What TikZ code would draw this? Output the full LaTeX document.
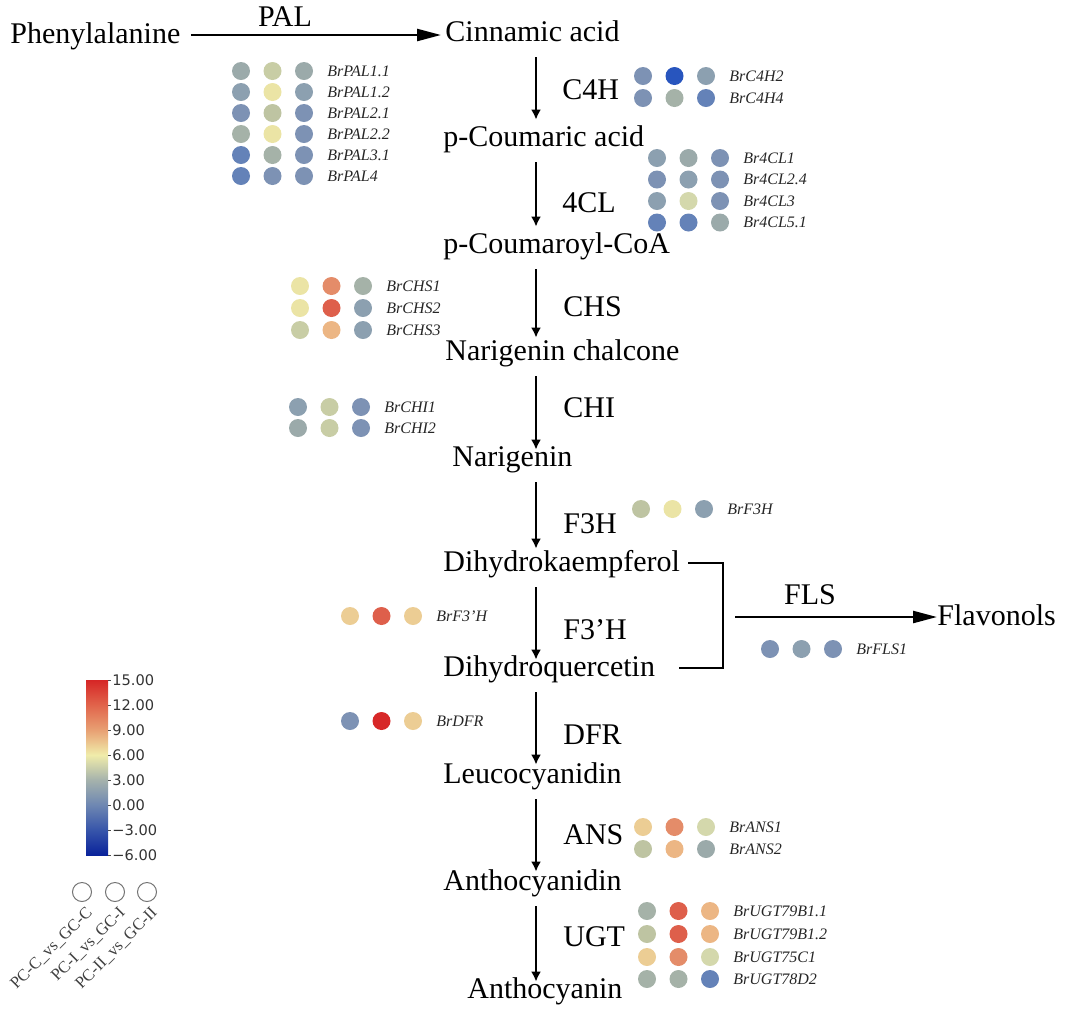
\documentclass[tikz,border=0pt]{standalone}
\usepackage{fontspec}
\setmainfont{Liberation Serif}
\newfontfamily\barfont{DejaVu Sans}
\usetikzlibrary{arrows.meta}

\definecolor{cGray}{RGB}{155,170,170}
\definecolor{cSage}{RGB}{200,205,165}
\definecolor{cYel}{RGB}{235,228,165}
\definecolor{cGBl}{RGB}{140,160,176}
\definecolor{cBGr}{RGB}{125,146,180}
\definecolor{cBlu}{RGB}{100,130,184}
\definecolor{cDeep}{RGB}{40,85,190}
\definecolor{cSgy}{RGB}{165,178,168}
\definecolor{cKha}{RGB}{190,196,162}
\definecolor{cTan}{RGB}{236,205,148}
\definecolor{cLor}{RGB}{236,182,132}
\definecolor{cOra}{RGB}{228,140,105}
\definecolor{cRed}{RGB}{222,95,75}
\definecolor{cCrim}{RGB}{215,40,40}
\definecolor{cPale}{RGB}{212,216,172}

\begin{document}
\begin{tikzpicture}[x=0.5pt, y=-0.5pt,
	compound/.style={anchor=west, inner sep=0pt, text height=11pt, text depth=3pt, font=\fontsize{15}{18}\selectfont},
	enzyme/.style={anchor=west, inner sep=0pt, font=\fontsize{15}{18}\selectfont},
	gdot/.style={circle, inner sep=0pt, minimum size=9pt},
	gene/.style={anchor=west, inner sep=0pt, font=\fontsize{8}{9}\selectfont\itshape, text=black!85},
	mainarrow/.style={line width=1.2pt, -{Latex[length=5pt, width=5pt]}},
	sidearrow/.style={line width=1.2pt, -{Triangle[length=12pt, width=6pt]}},
	legcircle/.style={circle, draw=black!55, line width=0.5pt, inner sep=0pt, minimum size=9.5pt},
	legtext/.style={anchor=east, rotate=45, inner sep=0pt, text=black!75, font=\fontsize{8.3}{9}\selectfont},
	barlabel/.style={anchor=west, inner sep=0pt, font=\barfont\fontsize{7.3}{8}\selectfont, text=black!80}
]
	\useasboundingbox (0,0) rectangle (1065,1024);

	% compounds
	\node[compound] (phe) at (10,35) {Phenylalanine};
	\node[compound] (cin) at (445,33) {Cinnamic acid};
	\node[compound] (pcou) at (443,138) {p-Coumaric acid};
	\node[compound] (pcoa) at (443,245) {p-Coumaroyl-CoA};
	\node[compound] (nchal) at (445,352) {Narigenin chalcone};
	\node[compound] (nar) at (452,458) {Narigenin};
	\node[compound] (dhk) at (443,563) {Dihydrokaempferol};
	\node[compound] (dhq) at (443,668) {Dihydroquercetin};
	\node[compound] (leu) at (443,775) {Leucocyanidin};
	\node[compound] (antd) at (443,882) {Anthocyanidin};
	\node[compound] (antn) at (467,990) {Anthocyanin};
	\node[compound] (flav) at (937,617) {Flavonols};

	% enzymes
	\node[enzyme, anchor=center] (pal) at (285,17) {PAL};
	\node[enzyme] (c4h) at (562,90) {C4H};
	\node[enzyme] (fcl) at (562,203) {4CL};
	\node[enzyme] (chs) at (563,307) {CHS};
	\node[enzyme] (chi) at (563,408) {CHI};
	\node[enzyme] (fth) at (563,524) {F3H};
	\node[enzyme] (ftph) at (563,630) {F3’H};
	\node[enzyme] (dfr) at (563,735) {DFR};
	\node[enzyme] (ans) at (563,835) {ANS};
	\node[enzyme] (ugt) at (563,937) {UGT};
	\node[enzyme, anchor=center] (fls) at (810,595) {FLS};

	% pathway arrows
	\coordinate (axis) at (536,0);
	\coordinate (brk) at (723,617);
	\draw[sidearrow, shorten <=5pt, shorten >=2pt] (phe.east) -- (phe.east -| cin.west);
	\draw[mainarrow, shorten <=5pt, shorten >=2pt] (cin.south -| axis) -- (pcou.north -| axis);
	\draw[mainarrow, shorten <=5pt, shorten >=2pt] (pcou.south -| axis) -- (pcoa.north -| axis);
	\draw[mainarrow, shorten <=5pt, shorten >=0pt] (pcoa.south -| axis) -- (nchal.north -| axis);
	\draw[mainarrow, shorten <=5pt, shorten >=-3pt] (nchal.south -| axis) -- (nar.north -| axis);
	\draw[mainarrow, shorten <=5pt, shorten >=0pt] (nar.south -| axis) -- (dhk.north -| axis);
	\draw[mainarrow, shorten <=5pt, shorten >=-3pt] (dhk.south -| axis) -- (dhq.north -| axis);
	\draw[mainarrow, shorten <=5pt, shorten >=-2pt] (dhq.south -| axis) -- (leu.north -| axis);
	\draw[mainarrow, shorten <=5pt, shorten >=-2pt] (leu.south -| axis) -- (antd.north -| axis);
	\draw[mainarrow, shorten <=5pt, shorten >=-3pt] (antd.south -| axis) -- (antn.north -| axis);
	\draw[line width=1.2pt] ([xshift=4pt]dhk.east) -| (brk) |- ([xshift=12pt]dhq.east);
	\draw[sidearrow, shorten <=6pt] (brk) -- (brk -| flav.west);

	% gene expression dots
	\foreach \x/\y/\ca/\cb/\cc/\g [count=\i] in {
		241/71/cGray/cSage/cGray/BrPAL1.1,
		241/92/cGBl/cYel/cGBl/BrPAL1.2,
		241/113/cBGr/cKha/cBGr/BrPAL2.1,
		241/134/cSgy/cYel/cBGr/BrPAL2.2,
		241/155/cBlu/cSgy/cBGr/BrPAL3.1,
		241/176/cBlu/cBGr/cBGr/BrPAL4,
		643/76/cBGr/cDeep/cGBl/BrC4H2,
		643/98/cBGr/cSgy/cBlu/BrC4H4,
		657/158/cGBl/cGray/cBGr/Br4CL1,
		657/179.5/cBGr/cGBl/cBGr/Br4CL2.4,
		657/201/cGBl/cPale/cBGr/Br4CL3,
		657/222.5/cBlu/cBlu/cGray/Br4CL5.1,
		300/286/cYel/cOra/cSgy/BrCHS1,
		300/308/cYel/cRed/cGBl/BrCHS2,
		300/330/cSage/cLor/cGBl/BrCHS3,
		298/407/cGBl/cSage/cBGr/BrCHI1,
		298/428/cGray/cSage/cBGr/BrCHI2,
		641/509/cKha/cYel/cGBl/BrF3H,
		350/616/cTan/cRed/cTan/BrF3'H,
		350/721/cBGr/cCrim/cTan/BrDFR,
		770/649/cBGr/cGBl/cBGr/BrFLS1,
		643/827/cTan/cOra/cPale/BrANS1,
		643/849/cKha/cLor/cGray/BrANS2,
		647/911/cSgy/cRed/cLor/BrUGT79B1.1,
		647/934/cKha/cRed/cLor/BrUGT79B1.2,
		647/957/cTan/cOra/cPale/BrUGT75C1,
		647/979/cSgy/cSgy/cBlu/BrUGT78D2}{
		\node[gdot, fill=\ca] (d\i a) at (\x,\y) {};
		\node[gdot, fill=\cb] (d\i b) at (\x+31.5,\y) {};
		\node[gdot, fill=\cc] (d\i c) at (\x+63,\y) {};
		\node[gene] (g\i) at (\x+86,\y) {\g};
	}

	% colour bar
	\shade[top color={rgb,255:red,214;green,38;blue,38}, bottom color={rgb,255:red,225;green,100;blue,75}] (86,680) rectangle (108,705);
	\shade[top color={rgb,255:red,225;green,100;blue,75}, bottom color={rgb,255:red,232;green,160;blue,115}] (86,705) rectangle (108,730);
	\shade[top color={rgb,255:red,232;green,160;blue,115}, bottom color={rgb,255:red,240;green,236;blue,170}] (86,730) rectangle (108,755);
	\shade[top color={rgb,255:red,240;green,236;blue,170}, bottom color={rgb,255:red,165;green,178;blue,172}] (86,755) rectangle (108,780);
	\shade[top color={rgb,255:red,165;green,178;blue,172}, bottom color={rgb,255:red,110;green,135;blue,178}] (86,780) rectangle (108,805);
	\shade[top color={rgb,255:red,110;green,135;blue,178}, bottom color={rgb,255:red,55;green,85;blue,170}] (86,805) rectangle (108,830);
	\shade[top color={rgb,255:red,55;green,85;blue,170}, bottom color={rgb,255:red,10;green,35;blue,155}] (86,830) rectangle (108,855);
	\foreach \v [count=\k from 0] in {15.00,12.00,9.00,6.00,3.00,0.00,−3.00,−6.00}{
		\draw[black!70, line width=0.4pt] (108,680+25*\k) -- (111,680+25*\k);
		\node[barlabel] (tick\k) at (112,680+25*\k) {\v};
	}

	% comparisons
	\node[legcircle] (lc1) at (82,892) {};
	\node[legcircle] (lc2) at (115,892) {};
	\node[legcircle] (lc3) at (147,892) {};
	\node[legtext] (lt1) at ([xshift=4pt, yshift=-9pt]lc1.center) {PC-C\_vs\_GC-C};
	\node[legtext] (lt2) at ([xshift=4pt, yshift=-9pt]lc2.center) {PC-I\_vs\_GC-I};
	\node[legtext] (lt3) at ([xshift=4pt, yshift=-9pt]lc3.center) {PC-II\_vs\_GC-II};

\end{tikzpicture}
\end{document}
